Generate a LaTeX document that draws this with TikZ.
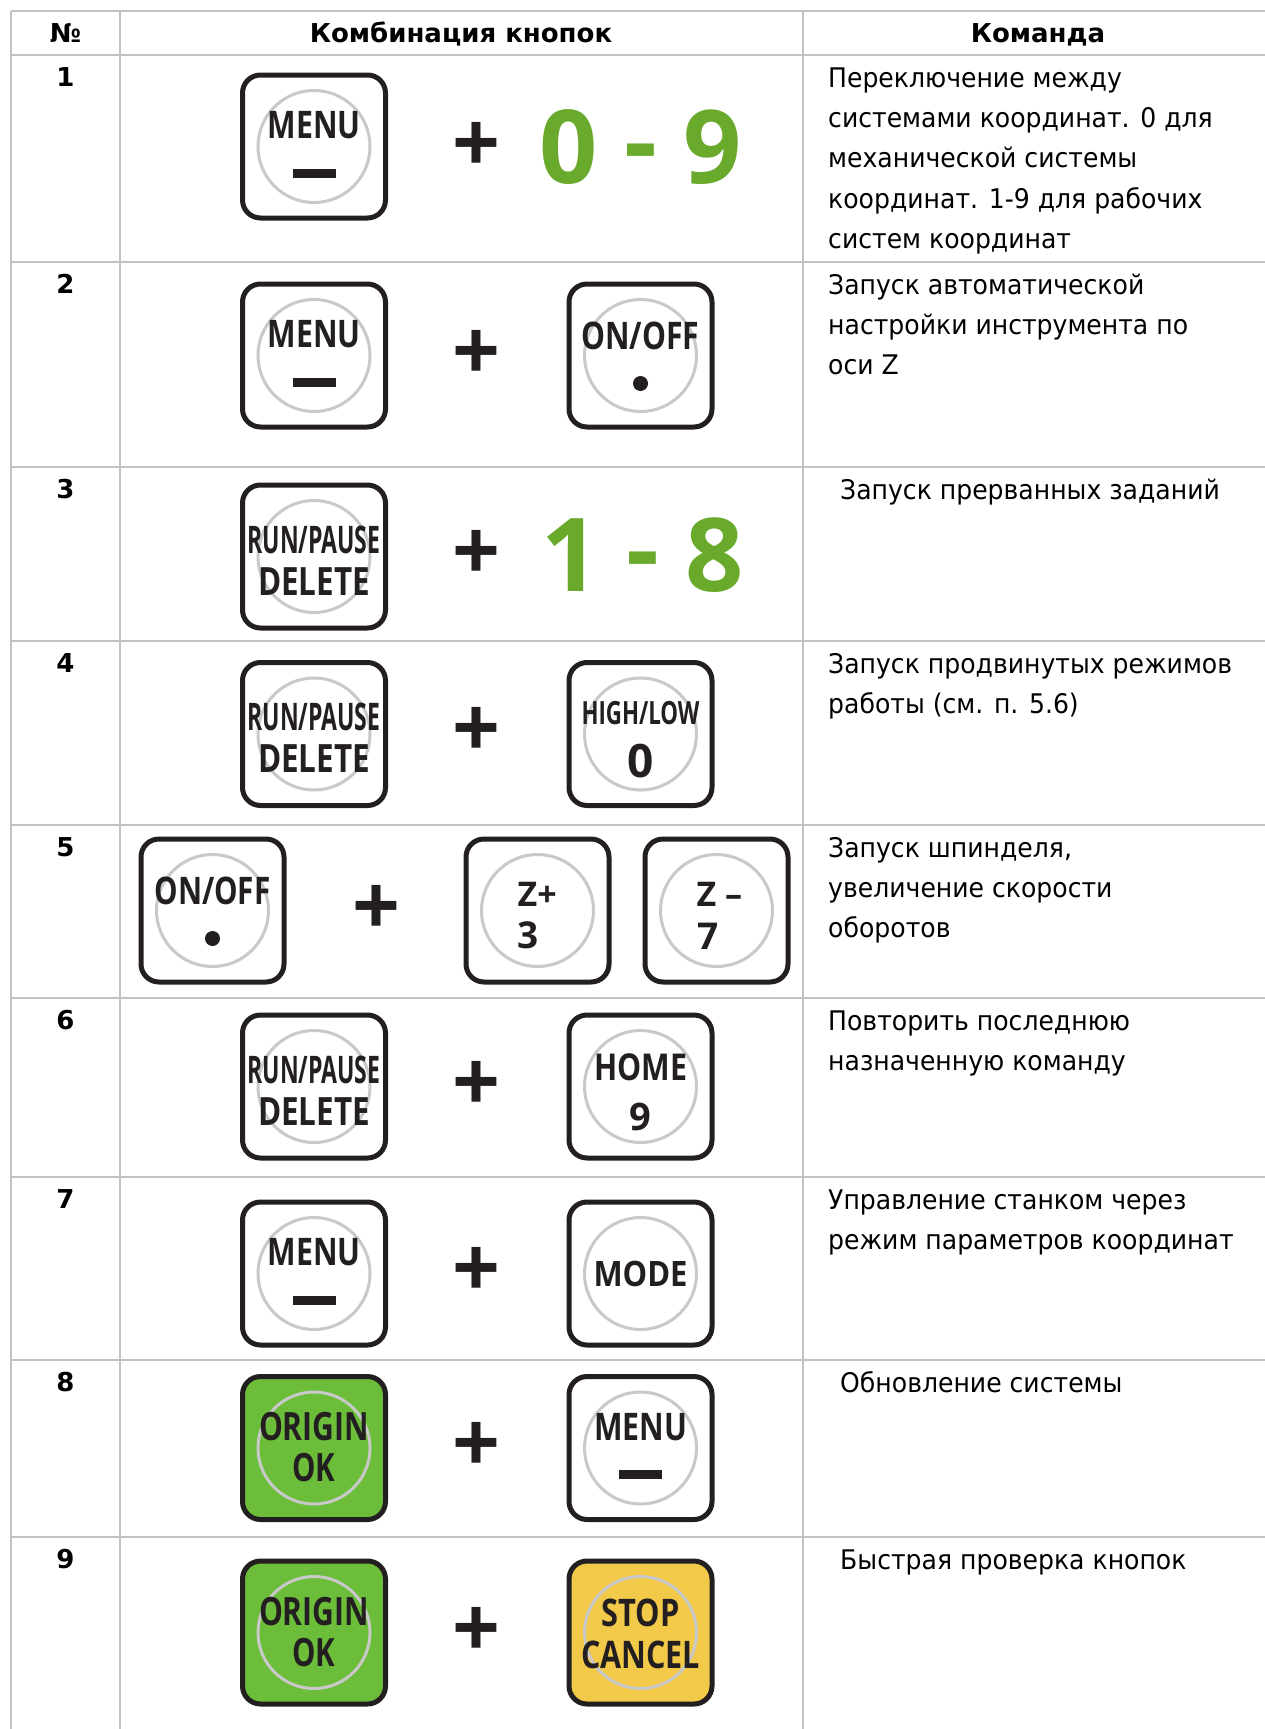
\documentclass[tikz,border=0pt]{standalone}
\usepackage{fontspec}
\usepackage{graphicx}
\setmainfont{DejaVu Sans}
\newfontfamily\keyfont{Open Sans}
\definecolor{gridc}{HTML}{C2C2C2}
\definecolor{keyline}{HTML}{231F20}
\definecolor{ringc}{HTML}{C9C9C9}
\definecolor{okgreen}{HTML}{6CBD3A}
\definecolor{stopyel}{HTML}{F2C948}
\definecolor{numgreen}{HTML}{69AA2D}
\newcommand\fitw[2]{\resizebox{#1pt}{\height}{#2}}
\newcommand\lf[1]{\keyfont\bfseries\fontsize{#1}{#1}\selectfont}
\newcommand\cmdbox[1]{\scalebox{0.93}[1]{\begin{tabular}{@{}l@{}}#1\end{tabular}}}
\newcommand\midbar{\raisebox{6pt}{-}}
\tikzset{
  gridline/.style={draw=gridc, line width=2.5pt},
  keybox/.style={rectangle, rounded corners=18pt, minimum width=143pt, minimum height=143pt, line width=5pt, draw=keyline, fill=white, inner sep=0pt},
  ring/.style={circle, minimum size=112pt, draw=ringc, line width=3pt, inner sep=0pt},
  keylab/.style={inner sep=0pt, text=keyline},
  keydash/.style={rectangle, fill=keyline, minimum width=43pt, minimum height=9pt, inner sep=0pt},
  keydot/.style={circle, fill=keyline, minimum size=15pt, inner sep=0pt},
  plussign/.style={inner sep=0pt, text=keyline, font=\keyfont\fontsize{84}{84}\selectfont},
  bignum/.style={inner sep=0pt, text=numgreen, font=\lf{102}},
  headtext/.style={inner sep=0pt, anchor=base, font=\bfseries\fontsize{26}{30}\selectfont},
  cmdtext/.style={inner sep=0pt, anchor=north west, font=\fontsize{27}{40.3}\selectfont},
}
\begin{document}
\begin{tikzpicture}[x=1pt,y=-1pt]
\useasboundingbox (0,0) rectangle (1265,1729);
\fill[white] (0,0) rectangle (1265,1729);
% grid
\foreach \yy in {11,55,262,467,641,825,998,1177,1360,1537}
  \draw[gridline] (11,\yy) -- (1265,\yy);
\foreach \xx in {11,120,803}
  \draw[gridline] (\xx,11) -- (\xx,1729);
% header
\node[headtext] (hno) at (65.5,42.5) {№};
\node[headtext] (hcomb) at (461,42.5) {Комбинация кнопок};
\node[headtext] (hcmd) at (1038,42.5) {Команда};
% row numbers
\node[headtext] (no1) at (65.5,86.5) {1};
\node[headtext] (no2) at (65.5,293.5) {2};
\node[headtext] (no3) at (65.5,498.5) {3};
\node[headtext] (no4) at (65.5,672.5) {4};
\node[headtext] (no5) at (65.5,856.5) {5};
\node[headtext] (no6) at (65.5,1029.5) {6};
\node[headtext] (no7) at (65.5,1208.5) {7};
\node[headtext] (no8) at (65.5,1391.5) {8};
\node[headtext] (no9) at (65.5,1568.5) {9};
% commands
\node[cmdtext] (c1) at (828,58.8) {\cmdbox{Переключение между\\системами координат. 0 для\\механической системы\\координат. 1-9 для рабочих\\систем координат}};
\node[cmdtext] (c2) at (828,265.8) {\cmdbox{Запуск автоматической\\настройки инструмента по\\оси Z}};
\node[cmdtext] (c3) at (840,470.8) {\cmdbox{Запуск прерванных заданий}};
\node[cmdtext] (c4) at (828,644.8) {\cmdbox{Запуск продвинутых режимов\\работы (см. п. 5.6)}};
\node[cmdtext] (c5) at (828,828.8) {\cmdbox{Запуск шпинделя,\\увеличение скорости\\оборотов}};
\node[cmdtext] (c6) at (828,1001.8) {\cmdbox{Повторить последнюю\\назначенную команду}};
\node[cmdtext] (c7) at (828,1180.8) {\cmdbox{Управление станком через\\режим параметров координат}};
\node[cmdtext] (c8) at (840,1363.8) {\cmdbox{Обновление системы}};
\node[cmdtext] (c9) at (840,1540.8) {\cmdbox{Быстрая проверка кнопок}};
% plus signs and numbers
\node[plussign] (p1) at (476,147) {\textbf{+}};
\node[plussign] (p2) at (476,355) {\textbf{+}};
\node[plussign] (p3) at (476,555) {\textbf{+}};
\node[plussign] (p4) at (476,732) {\textbf{+}};
\node[plussign] (p5) at (376,910) {\textbf{+}};
\node[plussign] (p6) at (476,1086) {\textbf{+}};
\node[plussign] (p7) at (476,1272) {\textbf{+}};
\node[plussign] (p8) at (476,1447) {\textbf{+}};
\node[plussign] (p9) at (476,1632) {\textbf{+}};
\node[bignum] (n1) at (640.5,147) {0 \midbar{} 9};
\node[bignum] (n3) at (642.5,555) {1 \midbar{} 8};
% row 1
\begin{scope}[shift={(314,146.5)}]
 \node[keybox] (kA1) at (0,0) {};
 \node[ring] (kA1r) at (0,0) {};
 \node[keylab, font=\lf{38}] (kA1t) at (0,-21) {\fitw{93}{MENU}};
 \node[keydash] (kA1d) at (0,26.5) {};
\end{scope}
% row 2
\begin{scope}[shift={(314,355.5)}]
 \node[keybox] (kA2) at (0,0) {};
 \node[ring] (kA2r) at (0,0) {};
 \node[keylab, font=\lf{38}] (kA2t) at (0,-21) {\fitw{93}{MENU}};
 \node[keydash] (kA2d) at (0,26.5) {};
\end{scope}
\begin{scope}[shift={(640.5,355.5)}]
 \node[keybox] (kB2) at (0,0) {};
 \node[ring] (kB2r) at (0,0) {};
 \node[keylab, font=\lf{38}] (kB2t) at (0,-20) {\fitw{118}{ON/OFF}};
 \node[keydot] (kB2d) at (0,28) {};
\end{scope}
% row 3
\begin{scope}[shift={(314,556.5)}]
 \node[keybox] (kA3) at (0,0) {};
 \node[ring] (kA3r) at (0,0) {};
 \node[keylab, font=\lf{38}] (kA3t) at (0,-17) {\fitw{133}{RUN/PAUSE}};
 \node[keylab, font=\lf{39}] (kA3b) at (0,25) {\fitw{112}{DELETE}};
\end{scope}
% row 4
\begin{scope}[shift={(314,734)}]
 \node[keybox] (kA4) at (0,0) {};
 \node[ring] (kA4r) at (0,0) {};
 \node[keylab, font=\lf{38}] (kA4t) at (0,-17) {\fitw{133}{RUN/PAUSE}};
 \node[keylab, font=\lf{39}] (kA4b) at (0,25) {\fitw{112}{DELETE}};
\end{scope}
\begin{scope}[shift={(640.5,734)}]
 \node[keybox] (kB4) at (0,0) {};
 \node[ring] (kB4r) at (0,0) {};
 \node[keylab, font=\lf{32}] (kB4t) at (0,-21) {\fitw{118}{HIGH/LOW}};
 \node[keylab, font=\lf{46}] (kB4b) at (0,27) {0};
\end{scope}
% row 5
\begin{scope}[shift={(212.5,910.5)}]
 \node[keybox] (kA5) at (0,0) {};
 \node[ring] (kA5r) at (0,0) {};
 \node[keylab, font=\lf{38}] (kA5t) at (0,-20) {\fitw{116}{ON/OFF}};
 \node[keydot] (kA5d) at (0,28) {};
\end{scope}
\begin{scope}[shift={(537.5,910.5)}]
 \node[keybox] (kB5) at (0,0) {};
 \node[ring] (kB5r) at (0,0) {};
 \node[keylab, font=\lf{34}, anchor=west] (kB5t) at (-20,-16) {Z+};
 \node[keylab, font=\lf{37}, anchor=west] (kB5b) at (-20,25) {3};
\end{scope}
\begin{scope}[shift={(716.5,910.5)}]
 \node[keybox] (kC5) at (0,0) {};
 \node[ring] (kC5r) at (0,0) {};
 \node[keylab, font=\lf{34}, anchor=west] (kC5t) at (-20,-16) {Z –};
 \node[keylab, font=\lf{37}, anchor=west] (kC5b) at (-19,26) {7};
\end{scope}
% row 6
\begin{scope}[shift={(314,1086.5)}]
 \node[keybox] (kA6) at (0,0) {};
 \node[ring] (kA6r) at (0,0) {};
 \node[keylab, font=\lf{38}] (kA6t) at (0,-17) {\fitw{133}{RUN/PAUSE}};
 \node[keylab, font=\lf{39}] (kA6b) at (0,25) {\fitw{112}{DELETE}};
\end{scope}
\begin{scope}[shift={(640.5,1086.5)}]
 \node[keybox] (kB6) at (0,0) {};
 \node[ring] (kB6r) at (0,0) {};
 \node[keylab, font=\lf{37}] (kB6t) at (0,-19) {\fitw{93}{HOME}};
 \node[keylab, font=\lf{38}] (kB6b) at (0,30) {9};
\end{scope}
% row 7
\begin{scope}[shift={(314,1273.5)}]
 \node[keybox] (kA7) at (0,0) {};
 \node[ring] (kA7r) at (0,0) {};
 \node[keylab, font=\lf{38}] (kA7t) at (0,-21) {\fitw{93}{MENU}};
 \node[keydash] (kA7d) at (0,26.5) {};
\end{scope}
\begin{scope}[shift={(640.5,1273.5)}]
 \node[keybox] (kB7) at (0,0) {};
 \node[ring] (kB7r) at (0,0) {};
 \node[keylab, font=\lf{35}] (kB7t) at (0,0) {\fitw{94}{MODE}};
\end{scope}
% row 8
\begin{scope}[shift={(314,1448)}]
 \node[keybox, fill=okgreen] (kA8) at (0,0) {};
 \node[ring] (kA8r) at (0,0) {};
 \node[keylab, font=\lf{39}] (kA8t) at (0,-21) {\fitw{110}{ORIGIN}};
 \node[keylab, font=\lf{39}] (kA8b) at (0,20) {\fitw{43}{OK}};
\end{scope}
\begin{scope}[shift={(640.5,1448)}]
 \node[keybox] (kB8) at (0,0) {};
 \node[ring] (kB8r) at (0,0) {};
 \node[keylab, font=\lf{38}] (kB8t) at (0,-21) {\fitw{93}{MENU}};
 \node[keydash] (kB8d) at (0,26.5) {};
\end{scope}
% row 9
\begin{scope}[shift={(314,1632.5)}]
 \node[keybox, fill=okgreen] (kA9) at (0,0) {};
 \node[ring] (kA9r) at (0,0) {};
 \node[keylab, font=\lf{39}] (kA9t) at (0,-21) {\fitw{110}{ORIGIN}};
 \node[keylab, font=\lf{39}] (kA9b) at (0,20) {\fitw{43}{OK}};
\end{scope}
\begin{scope}[shift={(640.5,1632.5)}]
 \node[keybox, fill=stopyel] (kB9) at (0,0) {};
 \node[ring] (kB9r) at (0,0) {};
 \node[keylab, font=\lf{38}] (kB9t) at (0,-20) {\fitw{78}{STOP}};
 \node[keylab, font=\lf{38}] (kB9b) at (0,22) {\fitw{119}{CANCEL}};
\end{scope}
\end{tikzpicture}
\end{document}
